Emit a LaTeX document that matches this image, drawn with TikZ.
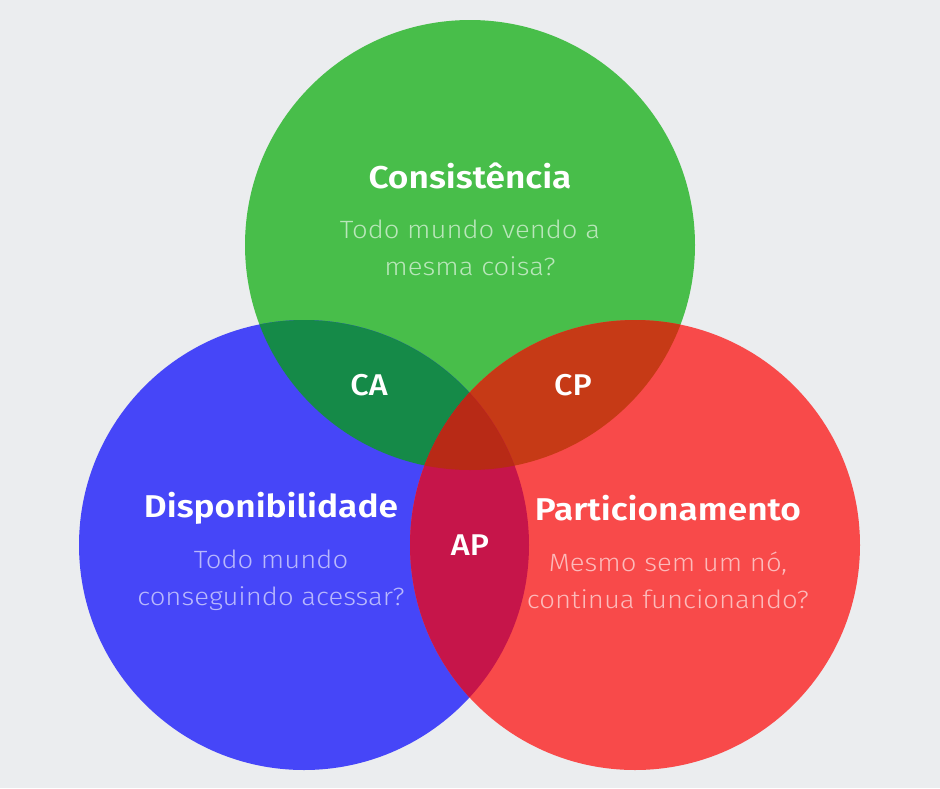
\documentclass[tikz,border=0pt]{standalone}
\usepackage{fontspec}
\setmainfont{Fira Sans}
\newfontfamily\titlef[FakeStretch=1.12]{Fira Sans SemiBold}
\newfontfamily\medf[FakeStretch=1.08]{Fira Sans Medium}
\newfontfamily\lightf[FakeStretch=1.1]{Fira Sans Light}
\definecolor{bgc}{HTML}{EBEDEF}
\definecolor{gc}{HTML}{48BE4A}
\definecolor{bc}{HTML}{4646F8}
\definecolor{rc}{HTML}{F84A4A}
\definecolor{cac}{HTML}{158A48}
\definecolor{cpc}{HTML}{C63A16}
\definecolor{apc}{HTML}{C6154A}
\definecolor{tric}{HTML}{B82A16}
\tikzset{
  ttl/.style={text=white, font=\titlef\fontsize{31.5}{36}\selectfont, inner sep=0pt},
  sub/.style={text=white, text opacity=0.62, font=\lightf\fontsize{25}{37}\selectfont, align=center, inner sep=0pt},
  ovl/.style={text=white, font=\medf\fontsize{30}{34}\selectfont, inner sep=0pt}
}
\begin{document}
\begin{tikzpicture}[x=1pt,y=-1pt]
\fill[bgc] (0,0) rectangle (940,788);
\useasboundingbox (0,0) rectangle (940,788);
\def\Gc{(470,245) circle (225)}
\def\Bc{(304,545) circle (225)}
\def\Rc{(635,545) circle (225)}
\fill[gc] \Gc;
\fill[bc] \Bc;
\fill[rc] \Rc;
\begin{scope}\clip \Gc; \fill[cac] \Bc; \end{scope}
\begin{scope}\clip \Gc; \fill[cpc] \Rc; \end{scope}
\begin{scope}\clip \Bc; \fill[apc] \Rc; \end{scope}
\begin{scope}\clip \Gc; \clip \Bc; \fill[tric] \Rc; \end{scope}
\node[ttl] (c) at (470,176) {Consistência};
\node[sub] (cs) at (470,248) {Todo mundo vendo a\\mesma coisa?};
\node[ttl] (d) at (271,508) {Disponibilidade};
\node[sub] (ds) at (271,580) {Todo mundo\\conseguindo acessar?};
\node[ttl] (p) at (668,508) {Particionamento};
\node[sub] (ps) at (668,580) {Mesmo sem um nó,\\continua funcionando?};
\node[ovl] (ca) at (369,385) {CA};
\node[ovl] (cp) at (573,385) {CP};
\node[ovl] (ap) at (470,545) {AP};
\end{tikzpicture}
\end{document}
